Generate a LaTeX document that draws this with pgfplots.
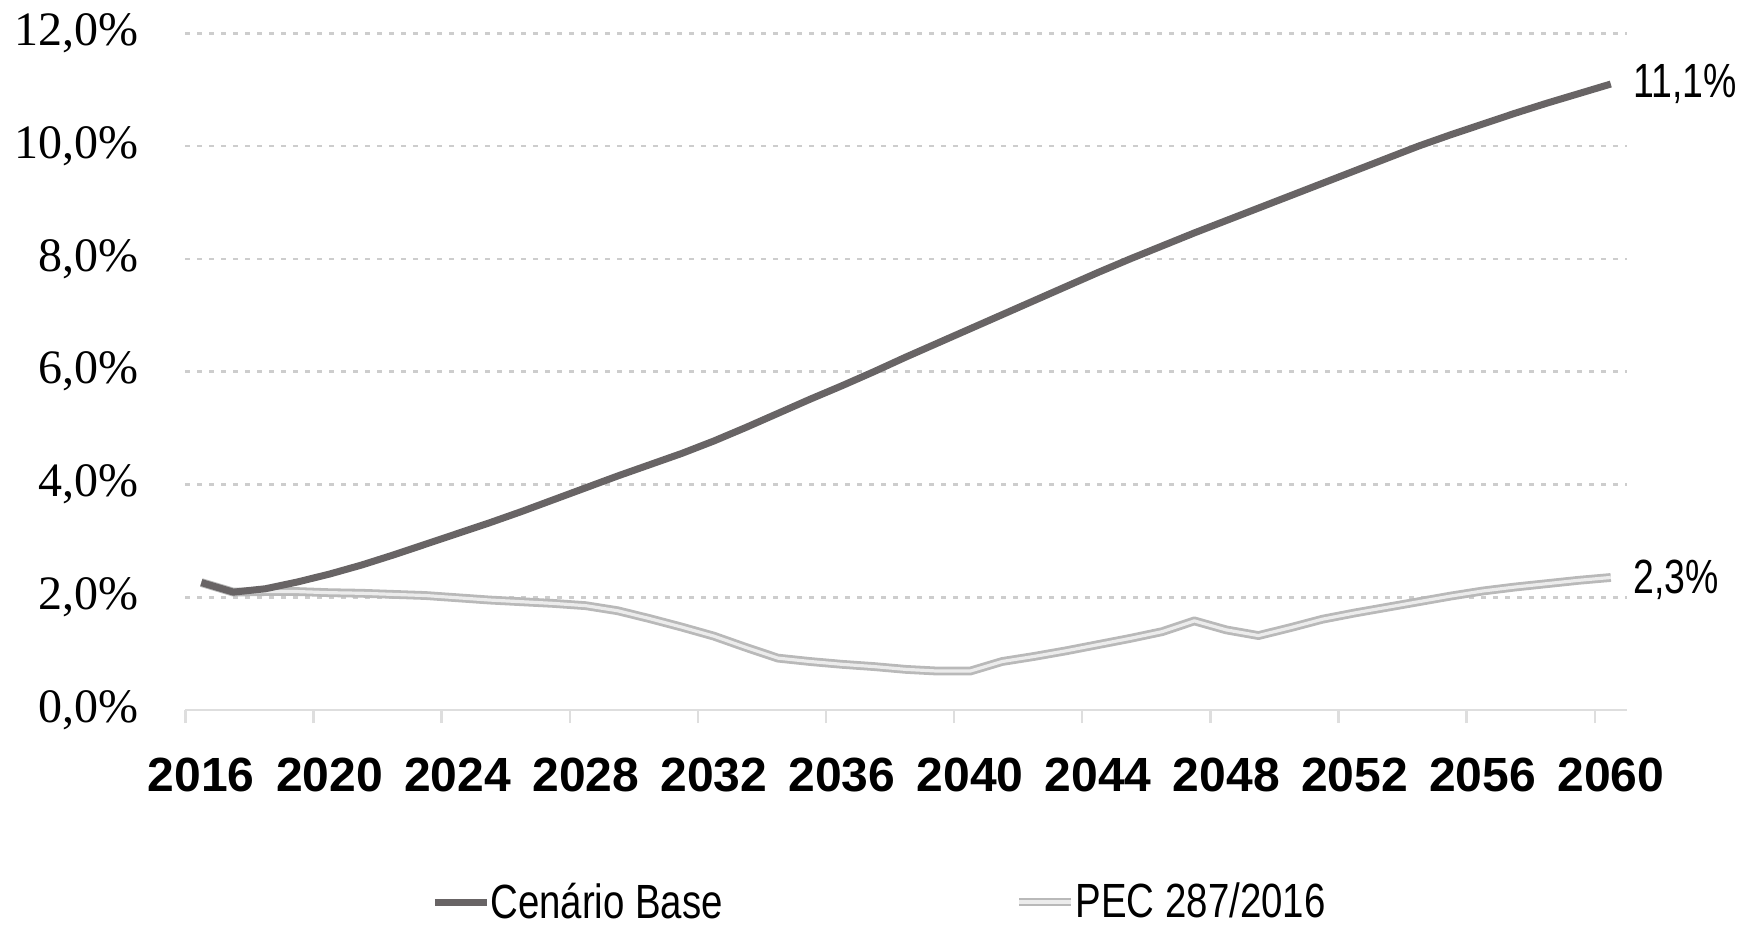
\documentclass[border=0pt]{standalone}
\usepackage{fontspec}
\setmainfont{Liberation Sans}
\newfontfamily\ylabfont{Liberation Serif}
\newfontfamily\condfont[FakeStretch=0.78]{Liberation Sans}
\newfontfamily\legfont[FakeStretch=0.8]{Liberation Sans}
\usepackage{pgfplots}
\usepackage{pgfplotstable}
\pgfplotsset{compat=1.18}
\definecolor{basecol}{RGB}{104,100,101}
\definecolor{pecout}{RGB}{185,185,185}
\definecolor{pecin}{RGB}{236,236,236}
\definecolor{gridcol}{RGB}{205,205,205}
\definecolor{axcol}{RGB}{222,222,222}

\pgfplotstableread{
i base pec
0 2.26 2.26
1 2.09 2.09
2 2.15 2.10
3 2.27 2.10
4 2.41 2.08
5 2.57 2.07
6 2.75 2.05
7 2.94 2.03
8 3.13 1.99
9 3.32 1.95
10 3.52 1.92
11 3.73 1.89
12 3.94 1.85
13 4.15 1.76
14 4.35 1.62
15 4.55 1.47
16 4.77 1.31
17 5.01 1.11
18 5.26 0.92
19 5.51 0.86
20 5.75 0.81
21 6.00 0.77
22 6.26 0.72
23 6.51 0.69
24 6.76 0.69
25 7.01 0.86
26 7.26 0.95
27 7.51 1.05
28 7.76 1.16
29 8.00 1.27
30 8.23 1.39
31 8.46 1.58
32 8.68 1.42
33 8.90 1.32
34 9.12 1.46
35 9.34 1.61
36 9.56 1.72
37 9.78 1.82
38 10.00 1.92
39 10.20 2.02
40 10.39 2.11
41 10.58 2.18
42 10.76 2.24
43 10.93 2.30
44 11.10 2.35
}\datatable

\begin{document}
\begin{tikzpicture}
\path[use as bounding box] (0,0) rectangle (870pt,463pt);
\begin{axis}[
  at={(92.65pt,108pt)}, anchor=south west,
  scale only axis, width=720.75pt, height=338.35pt,
  xmin=-0.5, xmax=44.5, ymin=0, ymax=12,
  clip=false,
  axis x line*=bottom, axis y line*=left,
  x axis line style={draw=axcol, line width=1.2pt},
  y axis line style={draw=none},
  xtick={0,4,...,44},
  xticklabels={2016,2020,2024,2028,2032,2036,2040,2044,2048,2052,2056,2060},
  major tick length=0pt,
  tick align=outside,
  extra x ticks={-0.5,3.5,...,43.5},
  extra x tick labels={},
  extra x tick style={major tick length=6.5pt, tick style={draw=axcol, line width=1.2pt}, grid=none},
  ytick={0,2,...,12},
  yticklabels={{0,0\%},{2,0\%},{4,0\%},{6,0\%},{8,0\%},{10,0\%},{12,0\%}},
  ytick style={draw=none},
  ymajorgrids,
  grid style={draw=gridcol, line width=1.3pt, dash pattern=on 2.4pt off 3.6pt},
  xticklabel style={font=\bfseries\fontsize{24pt}{28pt}\selectfont, anchor=north, inner sep=0pt, yshift=-24pt},
  yticklabel style={font=\ylabfont\fontsize{24pt}{28pt}\selectfont, anchor=east, inner sep=0pt, xshift=-23pt},
  legend columns=2,
  legend style={draw=none, fill=none, at={(119.8pt,-96pt)}, anchor=west,
    font=\legfont\fontsize{24pt}{28pt}\selectfont,
    /tikz/every even column/.append style={column sep=146pt},
    nodes={inner xsep=0pt}},
  legend image code/.code={\draw[#1] (0pt,0pt) -- (26pt,0pt);},
]
\addlegendimage{draw=basecol, line width=3.5pt}
\addlegendentry{Cenário Base}
\addlegendimage{draw=pecout, line width=1.4pt, double=pecin, double distance=1.6pt}
\addlegendentry{PEC 287/2016}
\addplot[forget plot, draw=pecout, line width=1.4pt, double=pecin, double distance=1.6pt, line join=round] table[x=i, y=pec] {\datatable};
\addplot[forget plot, draw=basecol, line width=3.5pt, line join=round] table[x=i, y=base] {\datatable};
\node[anchor=west, inner sep=0pt, font=\condfont\fontsize{24pt}{28pt}\selectfont] at (axis cs:44,11.1) [xshift=11pt] {11,1\%};
\node[anchor=west, inner sep=0pt, font=\condfont\fontsize{24pt}{28pt}\selectfont] at (axis cs:44,2.3) [xshift=11pt] {2,3\%};
\end{axis}
\end{tikzpicture}
\end{document}
